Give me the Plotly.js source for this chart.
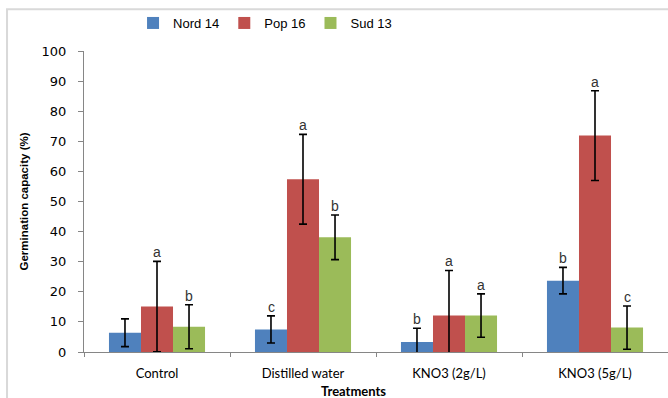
<!DOCTYPE html>
<html>
<head>
<meta charset="utf-8">
<script src="https://cdn.plot.ly/plotly-3.0.1.min.js"></script>
<style>html,body{margin:0;padding:0;background:#fff}#chart{width:668px;height:398px}</style>
</head>
<body>
<div id="chart"></div>
<script>
const categories = ["Control", "Distilled water", "KNO3 (2g/L)", "KNO3 (5g/L)"];
const seriesNames = ["Nord 14", "Pop 16", "Sud 13"];
const nord14 = [6.4, 7.5, 3.3, 23.7];
const pop16 = [15.1, 57.4, 12.1, 71.9];
const sud13 = [8.4, 38.1, 12.1, 8.1];
const nord14Err = [4.6, 4.5, 4.6, 4.4];
const pop16Err = [15.0, 14.9, 15.0, 14.9];
const sud13Err = [7.3, 7.4, 7.2, 7.2];
const nord14Letters = ["", "c", "b", "b"];
const pop16Letters = ["a", "a", "a", "a"];
const sud13Letters = ["b", "b", "a", "c"];
const colors = ["#4F81BD", "#C0504D", "#9BBB59"];

const values = [nord14, pop16, sud13];
const errs = [nord14Err, pop16Err, sud13Err];
const letters = [nord14Letters, pop16Letters, sud13Letters];

const traces = values.map((v, i) => ({
  type: "bar",
  name: seriesNames[i],
  x: categories,
  y: v,
  marker: {color: colors[i]},
  error_y: {type: "data", array: errs[i], visible: true, color: "#000", thickness: 1.6, width: 4},
  hoverinfo: "skip"
}));

const barPx = 32;
const annotations = [];
values.forEach((v, i) => {
  v.forEach((val, j) => {
    if (!letters[i][j]) return;
    annotations.push({
      x: categories[j], y: val + errs[i][j], xref: "x", yref: "y",
      xshift: (i - 1) * barPx, yshift: -1,
      text: letters[i][j], showarrow: false, yanchor: "bottom",
      font: {family: "Liberation Sans, Arial", size: 14, color: "#333"}
    });
  });
});
annotations.push({
  text: "<b>Treatments</b>", xref: "paper", yref: "paper",
  x: 0.461, y: -0.131, xanchor: "center", yanchor: "middle", showarrow: false,
  font: {family: "Lato, Carlito, sans-serif", size: 13, color: "#000"}
});

const layout = {
  width: 668, height: 398,
  margin: {l: 84, r: 0, t: 51, b: 46, pad: 0},
  paper_bgcolor: "#fff", plot_bgcolor: "#fff",
  barmode: "group", bargap: 0.342, bargroupgap: 0,
  showlegend: true,
  legend: {
    orientation: "h", x: 0.31, xanchor: "center", y: 1.093, yanchor: "middle",
    font: {family: "Liberation Sans, Arial", size: 13, color: "#000"},
    itemwidth: 30, tracegroupgap: 0, bgcolor: "rgba(0,0,0,0)"
  },
  xaxis: {
    type: "category", showgrid: false, zeroline: false,
    showline: true, linecolor: "#868686", linewidth: 1,
    ticks: "outside", tickson: "boundaries", ticklen: 4, tickcolor: "#868686",
    ticklabelstandoff: 9,
    tickfont: {family: "Lato, Carlito, sans-serif", size: 13, color: "#000"}
  },
  yaxis: {
    range: [0, 100], dtick: 10, tick0: 0, showgrid: false, zeroline: false,
    showline: true, linecolor: "#868686", linewidth: 1,
    ticks: "outside", ticklen: 5, tickcolor: "#868686",
    ticklabelstandoff: 9,
    tickfont: {family: "DejaVu Sans, Verdana", size: 13, color: "#000"},
    title: {text: "<b>Germination capacity (%)</b>", standoff: 10,
      font: {family: "Liberation Sans, Arial", size: 11.5, color: "#000"}}
  },
  annotations: annotations,
  shapes: [{
    type: "rect", xref: "paper", yref: "paper",
    x0: -0.1318, x1: 1.02, y0: -0.17, y1: 1.139,
    line: {color: "#d9d9d9", width: 2}, fillcolor: "rgba(0,0,0,0)", layer: "below"
  }]
};

Plotly.newPlot("chart", traces, layout, {displayModeBar: false, staticPlot: true});
</script>
</body>
</html>
